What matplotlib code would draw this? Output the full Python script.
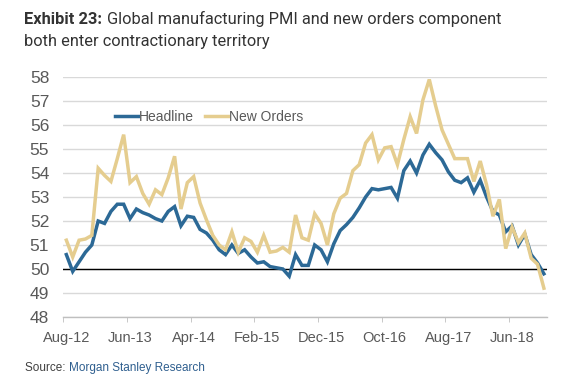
import matplotlib
matplotlib.use("Agg")
import matplotlib.pyplot as plt

# ============================================================
# Data (monthly, Aug-12 .. Nov-18)
# ============================================================
headline = [50.6, 49.9, 50.3, 50.7, 51.0, 52.0, 51.9, 52.4, 52.7, 52.7,
            52.1, 52.5, 52.35, 52.25, 52.1, 52.0, 52.4, 52.6, 51.8, 52.2,
            52.15, 51.65, 51.5, 51.2, 50.8, 50.6, 51.0, 50.65, 50.8, 50.5,
            50.25, 50.3, 50.1, 50.05, 50.0, 49.7, 50.6, 50.15, 50.15, 51.0,
            50.8, 50.3, 51.05, 51.6, 51.85, 52.15, 52.55, 53.0, 53.35, 53.3,
            53.35, 53.4, 52.95, 54.1, 54.5, 54.0, 54.75, 55.2, 54.85, 54.55,
            54.05, 53.7, 53.6, 53.8, 53.2, 53.7, 53.0, 52.4, 52.25, 51.55,
            51.8, 51.0, 51.45, 50.6, 50.25, 49.8]
new_orders = [51.2, 50.5, 51.2, 51.25, 51.4, 54.2, 53.9, 53.65, 54.6, 55.6,
              53.6, 53.85, 53.15, 52.7, 53.3, 53.1, 53.8, 54.7, 52.5, 53.6,
              53.85, 52.75, 52.05, 51.4, 51.0, 50.8, 51.55, 50.7, 51.3, 51.15,
              50.7, 51.4, 50.7, 50.75, 50.9, 50.7, 52.25, 51.3, 51.2, 52.3,
              51.9, 51.0, 52.3, 52.95, 53.15, 54.1, 54.35, 55.25, 55.6, 54.55,
              55.05, 55.1, 54.35, 55.4, 56.35, 55.65, 57.05, 57.9, 56.8, 55.8,
              55.2, 54.6, 54.6, 54.6, 53.65, 54.5, 53.5, 52.2, 52.9, 50.85,
              51.75, 51.1, 51.5, 50.45, 50.2, 49.2]
tick_labels = ["Aug-12", "Jun-13", "Apr-14", "Feb-15", "Dec-15",
               "Oct-16", "Aug-17", "Jun-18"]
tick_idx = [0, 10, 20, 30, 40, 50, 60, 70]
y_ticks = [48, 49, 50, 51, 52, 53, 54, 55, 56, 57, 58]

BLUE = "#2C6996"
TAN = "#E5CD8F"
GRAY = "#595959"

plt.rcParams["font.family"] = ["Liberation Sans", "DejaVu Sans"]

fig = plt.figure(figsize=(5.64, 3.76), dpi=100)
ax = fig.add_axes([0.112, 0.157, 0.858, 0.638])

x = list(range(len(headline)))
ax.plot(x, headline, color=BLUE, lw=2.5, label="Headline", zorder=3,
        solid_joinstyle="miter")
ax.plot(x, new_orders, color=TAN, lw=2.5, label="New Orders", zorder=4,
        solid_joinstyle="miter")
ax.axhline(50, color="black", lw=1.0, zorder=2)

ax.set_xlim(-0.5, len(headline) - 0.5)
ax.set_ylim(48, 58)
ax.set_yticks(y_ticks)
ax.set_yticklabels([str(v) for v in y_ticks], fontsize=12.5, color=GRAY)
ax.tick_params(axis="y", length=0, pad=10)
ax.grid(axis="y", color="#D9D9D9", lw=1.0, zorder=1)
ax.set_axisbelow(True)

ax.set_xticks(tick_idx)
ax.set_xticklabels(tick_labels, fontsize=10.5, color=GRAY)
ax.tick_params(axis="x", which="major", length=0, pad=10)
ax.set_xticks([i - 0.5 for i in tick_idx], minor=True)
ax.tick_params(axis="x", which="minor", length=3.5, color="#BFBFBF",
               direction="out")

for side in ["top", "right", "left"]:
    ax.spines[side].set_visible(False)
ax.spines["bottom"].set_color("#BFBFBF")
ax.spines["bottom"].set_linewidth(1.0)

leg = ax.legend(loc="upper left", bbox_to_anchor=(0.095, 0.885), ncol=2,
                frameon=False, fontsize=10, handlelength=1.65,
                handletextpad=0.1, columnspacing=0.8, borderaxespad=0)
for t in leg.get_texts():
    t.set_color(GRAY)

# Title: bold "Exhibit 23:" followed by regular text
title_font = ["Roboto", "DejaVu Sans"]
t1 = fig.text(24 / 564, 1 - 24 / 376, "Exhibit 23:", fontsize=11.8,
              fontweight="bold", color="#333333", family=title_font,
              va="baseline")
fig.canvas.draw()
bb = t1.get_window_extent()
fig.text(bb.x1 / 564 + 5 / 564, 1 - 24 / 376,
         "Global manufacturing PMI and new orders component",
         fontsize=11.8, color="#333333", family=title_font, va="baseline")
fig.text(24 / 564, 1 - 46 / 376, "both enter contractionary territory",
         fontsize=11.8, color="#333333", family=title_font, va="baseline")

# Source line
s1 = fig.text(25 / 564, 1 - 371 / 376, "Source: ", fontsize=8.5,
              color="#404040", va="baseline")
fig.canvas.draw()
sb = s1.get_window_extent()
fig.text(sb.x1 / 564, 1 - 371 / 376, "Morgan Stanley Research",
         fontsize=8.5, color="#2F5F8F", va="baseline")

fig.savefig("out.png", dpi=100)
